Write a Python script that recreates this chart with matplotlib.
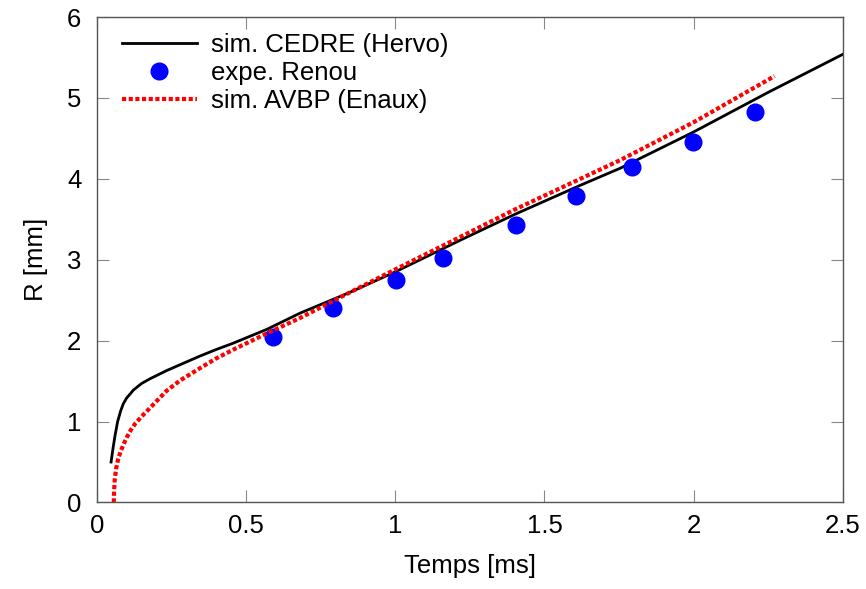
import numpy as np
import matplotlib
matplotlib.use("Agg")
import matplotlib.pyplot as plt

# rayon de la flamme en fonction du temps
t_cedre = [0.048, 0.055, 0.061, 0.070, 0.080, 0.089, 0.100, 0.123, 0.150, 0.179,
           0.234, 0.290, 0.346, 0.400, 0.458, 0.570, 0.681, 0.85, 1.0, 1.217,
           1.40, 1.62, 1.753, 2.0, 2.25, 2.5]
r_cedre = [0.50, 0.68, 0.82, 1.00, 1.13, 1.22, 1.29, 1.39, 1.47, 1.53,
           1.63, 1.72, 1.81, 1.89, 1.97, 2.14, 2.34, 2.60, 2.85, 3.24,
           3.56, 3.92, 4.13, 4.58, 5.07, 5.54]

t_renou = [0.589, 0.793, 1.004, 1.161, 1.406, 1.606, 1.794, 1.998, 2.204]
r_renou = [2.05, 2.40, 2.75, 3.02, 3.43, 3.79, 4.15, 4.46, 4.82]

t_avbp = [0.057, 0.058, 0.060, 0.065, 0.072, 0.080, 0.090, 0.100, 0.115, 0.130,
          0.155, 0.179, 0.205, 0.234, 0.280, 0.346, 0.400, 0.458, 0.570, 0.681,
          0.85, 1.0, 1.217, 1.40, 1.62, 1.753, 2.0, 2.271]
r_avbp = [0.0, 0.12, 0.27, 0.42, 0.54, 0.63, 0.72, 0.80, 0.90, 0.98,
          1.08, 1.17, 1.27, 1.38, 1.51, 1.66, 1.78, 1.89, 2.09, 2.28,
          2.60, 2.88, 3.28, 3.62, 4.00, 4.23, 4.70, 5.27]

xticks = [0, 0.5, 1, 1.5, 2, 2.5]
xticklabels = ['0', '0.5', '1', '1.5', '2', '2.5']
yticks = [0, 1, 2, 3, 4, 5, 6]

plt.rcParams['font.family'] = ['Liberation Sans', 'DejaVu Sans']

fig = plt.figure(figsize=(8.66, 5.89), dpi=100)
ax = fig.add_axes([0.1117, 0.1469, 0.8617, 0.8242])

ax.plot(t_cedre, r_cedre, color='black', lw=2.0, label='sim. CEDRE (Hervo)')
ax.plot(t_renou, r_renou, 'o', color='#0000ff', ms=12, label='expe. Renou')
ax.plot(t_avbp, r_avbp, color='#ff0000', lw=3.0, linestyle=(0, (1, 0.6)),
        dash_capstyle='butt', label='sim. AVBP (Enaux)')

ax.set_xlim(0, 2.5)
ax.set_ylim(0, 6)
ax.set_xticks(xticks)
ax.set_xticklabels(xticklabels)
ax.set_yticks(yticks)

for s in ax.spines.values():
    s.set_color('#555555')
    s.set_linewidth(1.0)
ax.tick_params(direction='in', length=8.5, width=0.8, color='#888888',
               top=True, right=True, labelsize=18.5, labelcolor='black')
ax.tick_params(axis='x', pad=8)
ax.tick_params(axis='y', pad=11)

ax.set_xlabel('Temps [ms]', fontsize=18.5, labelpad=12)
ax.set_ylabel('R [mm]', fontsize=18.5, labelpad=14)

ax.legend(loc='upper left', frameon=False, fontsize=18.5, handlelength=2.9,
          handletextpad=0.55, labelspacing=0.16, borderaxespad=0.3,
          bbox_to_anchor=(0.01, 1.005))

fig.savefig('out.png', dpi=100)
